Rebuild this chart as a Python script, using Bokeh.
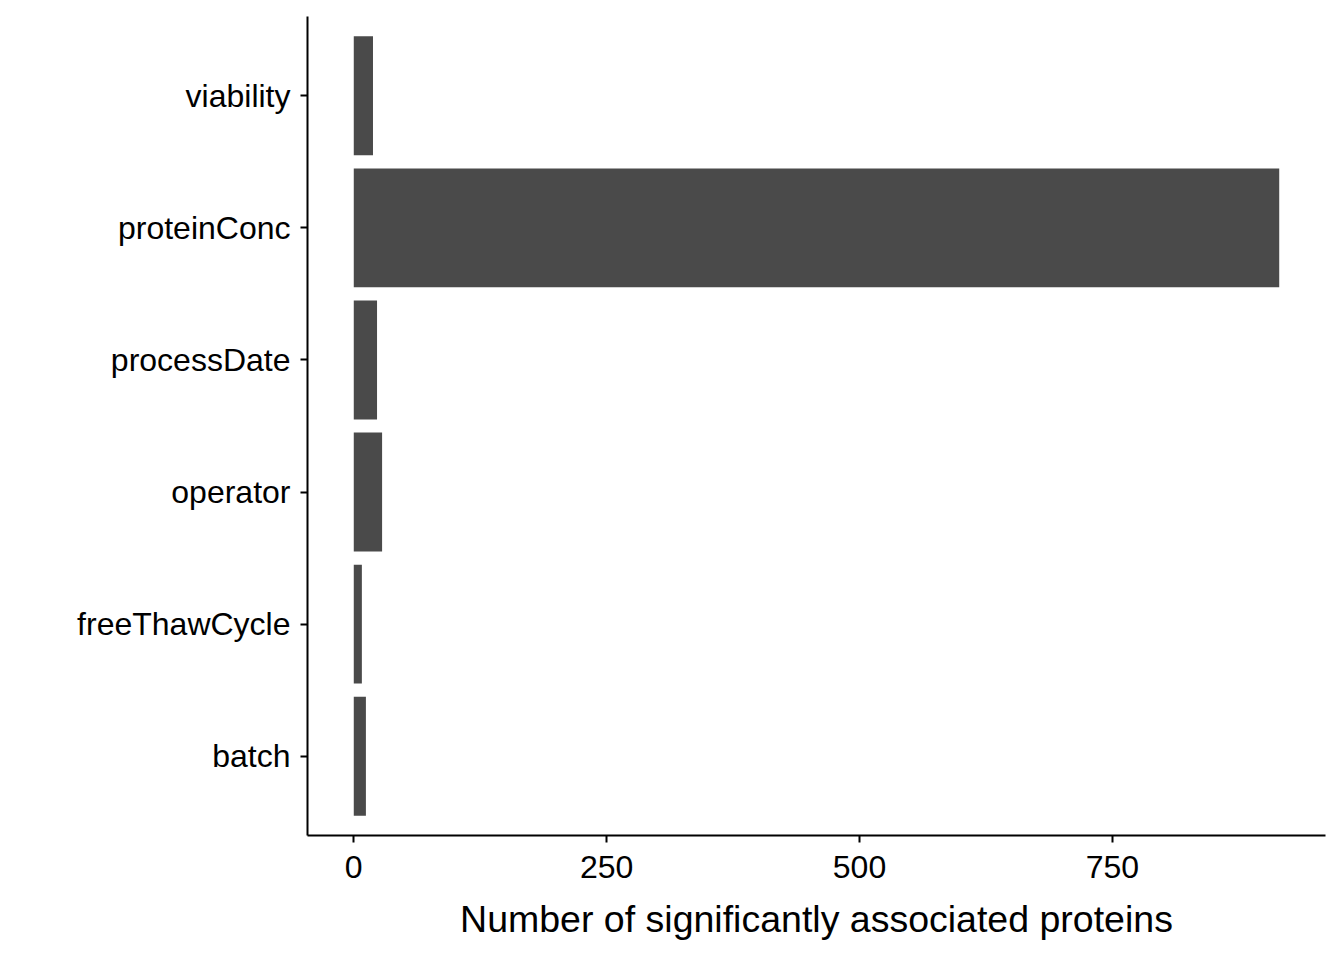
from bokeh.plotting import figure
from bokeh.models import Range1d, FactorRange, FixedTicker
from bokeh.embed import file_html
from bokeh.resources import INLINE

categories = ["batch", "freeThawCycle", "operator", "processDate", "proteinConc", "viability"]
counts = [12, 8, 28, 23, 915, 19]
x_ticks = [0, 250, 500, 750]

FONT = "Liberation Sans"

p = figure(
    width=1328, height=944,
    y_range=FactorRange(factors=categories, range_padding=0.1, range_padding_units="absolute"),
    x_range=Range1d(-45.75, 960.75),
    output_backend="svg", toolbar_location=None,
    min_border_left=307, min_border_right=3, min_border_top=16, min_border_bottom=109,
)
p.hbar(y=categories, right=counts, left=0, height=0.9, color="#4A4A4A", line_color=None)

p.outline_line_color = None
p.xgrid.visible = False
p.ygrid.visible = False
p.background_fill_color = "white"
p.border_fill_color = "white"

for ax in (p.xaxis[0], p.yaxis[0]):
    ax.axis_line_color = "black"
    ax.axis_line_width = 2
    ax.major_tick_line_color = "black"
    ax.major_tick_line_width = 2
    ax.major_tick_out = 7
    ax.major_tick_in = 0
    ax.minor_tick_line_color = None
    ax.major_label_text_font = FONT
    ax.major_label_text_font_size = "32px"
    ax.major_label_text_color = "black"

p.xaxis.ticker = FixedTicker(ticks=x_ticks)
p.xaxis.major_label_standoff = 13
p.yaxis.major_label_standoff = 10
p.xaxis.axis_label = "Number of significantly associated proteins"
p.xaxis.axis_label_text_font = FONT
p.xaxis.axis_label_text_font_size = "37.5px"
p.xaxis.axis_label_text_font_style = "normal"
p.xaxis.axis_label_text_color = "black"
p.xaxis.axis_label_standoff = 17

open("out.html", "w").write(file_html(p, INLINE))
